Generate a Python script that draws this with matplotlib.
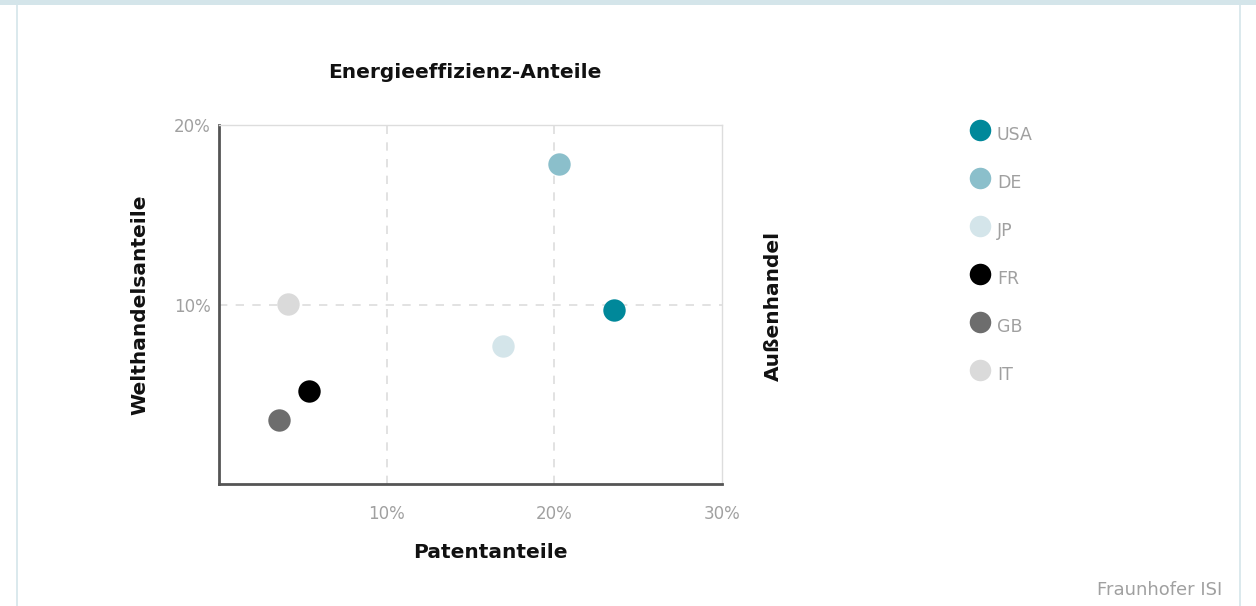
import matplotlib.pyplot as plt
from matplotlib.patches import Rectangle
from matplotlib.lines import Line2D
from matplotlib.ticker import FuncFormatter

plt.rcParams['font.family'] = ['DejaVu Sans']

# shares in percent
countries = ["USA", "DE", "JP", "FR", "GB", "IT"]
patent_share = [23.55, 20.27, 16.93, 5.37, 3.58, 4.11]
trade_share = [9.69, 17.83, 7.69, 5.18, 3.57, 10.03]
colors = ["#00889a", "#8bbfcb", "#d4e5ea", "#000000", "#6d6d6d", "#dadada"]

x_ticks = [10, 20, 30]
y_ticks = [10, 20]

fig = plt.figure(figsize=(12.56, 6.06), dpi=100)
W, H = 1256, 606

# card frame around the chart
fig.patches.append(Rectangle((0, 1 - 5 / H), 1, 5 / H, transform=fig.transFigure,
                             facecolor="#d4e5ea", edgecolor="none"))
fig.add_artist(Line2D([17 / W, 17 / W], [0, 1], transform=fig.transFigure,
                      color="#d4e5ea", lw=1.2))
fig.add_artist(Line2D([1240 / W, 1240 / W], [0, 1], transform=fig.transFigure,
                      color="#d4e5ea", lw=1.2))

ax = fig.add_axes([219 / W, 1 - 484 / H, (722 - 219) / W, (484 - 125) / H])
ax.set_xlim(0, 30)
ax.set_ylim(0, 20)

for x, y, c in zip(patent_share, trade_share, colors):
    ax.scatter(x, y, s=260, color=c, zorder=3, linewidths=0)

ax.set_xticks(x_ticks)
ax.set_yticks(y_ticks)
pct = FuncFormatter(lambda v, p: "%d%%" % v)
ax.xaxis.set_major_formatter(pct)
ax.yaxis.set_major_formatter(pct)
ax.tick_params(axis="both", length=0, labelsize=12, colors="#a0a0a0")
ax.tick_params(axis="x", pad=15)
ax.tick_params(axis="y", pad=6)

# dashed grid only on the inner ticks, the frame stays solid
grid_style = dict(color="#dddddd", linestyle=(0, (5, 5)), lw=1.2, zorder=1)
for v in x_ticks[:-1]:
    ax.axvline(v, **grid_style)
for v in y_ticks[:-1]:
    ax.axhline(v, **grid_style)

for side in ["left", "bottom"]:
    ax.spines[side].set_color("#555555")
    ax.spines[side].set_linewidth(2)
for side in ["top", "right"]:
    ax.spines[side].set_color("#dddddd")
    ax.spines[side].set_linewidth(1)

label_style = dict(ha="center", va="center", fontsize=14.5, fontweight="bold",
                   color="#111111")
fig.text(465 / W, 1 - 73 / H, "Energieeffizienz-Anteile", **label_style)
fig.text(490 / W, 1 - 552 / H, "Patentanteile", **label_style)
fig.text(140 / W, 1 - 305 / H, "Welthandelsanteile", rotation=90, **label_style)
fig.text(773 / W, 1 - 306 / H, "Außenhandel", rotation=90, **label_style)

# legend column on the right
for i, (name, c) in enumerate(zip(countries, colors)):
    yy = 1 - (130 + 48 * i) / H
    fig.add_artist(Line2D([980 / W], [yy], transform=fig.transFigure, marker="o",
                          markersize=15.5, color=c, markeredgewidth=0, linestyle="none"))
    fig.text(997 / W, yy - 5 / H, name, ha="left", va="center",
             fontsize=12.5, color="#a0a0a0")

fig.text(1222 / W, 1 - 590 / H, "Fraunhofer ISI", ha="right", va="center",
         fontsize=13, color="#a0a0a0")

fig.savefig("out.png", dpi=100, facecolor="white")
